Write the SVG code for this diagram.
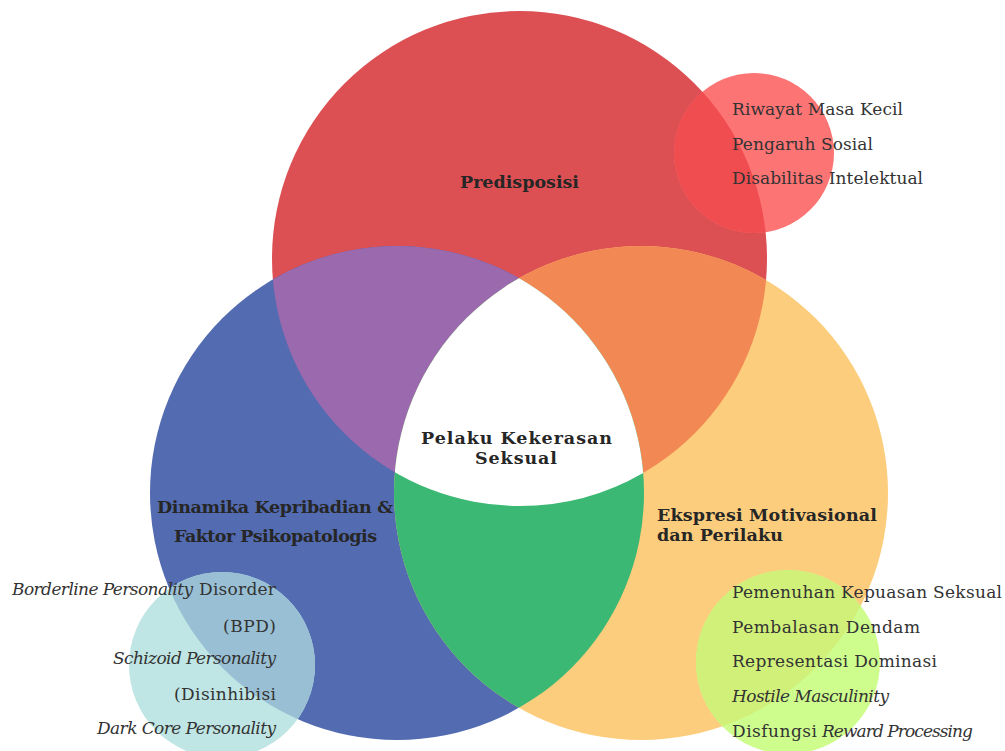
<svg xmlns="http://www.w3.org/2000/svg" width="1005" height="751" viewBox="0 0 1005 751">
<style>
.t{font-family:"DejaVu Serif","Liberation Serif",serif;fill:#262626}
.b{font-weight:bold;font-size:17.5px}
.i{font-size:17px;fill:#333}
.it{font-style:italic}
</style>
<defs>
<clipPath id="cR"><circle cx="519.5" cy="258.5" r="247.5"/></clipPath>
<clipPath id="cY"><circle cx="641" cy="493" r="247"/></clipPath>
<clipPath id="cB"><circle cx="397" cy="493" r="247"/></clipPath>
<clipPath id="cRB" clip-path="url(#cB)"><circle cx="519.5" cy="258.5" r="247.5"/></clipPath>
</defs>
<rect width="1005" height="751" fill="#fff"/>
<g id="predisposisi">
<circle cx="519.5" cy="258.5" r="247.5" fill="#dc4f53"/>
</g>
<g id="dinamika">
<circle cx="397" cy="493" r="247" fill="#536bb0"/>
</g>
<g id="ekspresi">
<circle cx="641" cy="493" r="247" fill="#fccd7c"/>
</g>
<g id="overlaps">
<circle cx="397" cy="493" r="247" fill="#9b69ae" clip-path="url(#cR)"/>
<circle cx="641" cy="493" r="247" fill="#f28853" clip-path="url(#cR)"/>
<circle cx="641" cy="493" r="247" fill="#3bb874" clip-path="url(#cB)"/>
<circle cx="641" cy="493" r="247" fill="#ffffff" clip-path="url(#cRB)"/>
</g>
<g id="sub-predisposisi">
<circle cx="754" cy="153" r="80" fill="#fd7475"/>
<circle cx="754" cy="153" r="80" fill="#f04d50" clip-path="url(#cR)"/>
</g>
<g id="sub-dinamika">
<circle cx="222" cy="665" r="93" fill="#bfe6e4"/>
<circle cx="222" cy="665" r="93" fill="#99bfd4" clip-path="url(#cB)"/>
</g>
<g id="sub-ekspresi">
<circle cx="788" cy="662" r="92" fill="#cefd8e"/>
<circle cx="788" cy="662" r="92" fill="#d1f07a" clip-path="url(#cY)"/>
</g>
<g id="labels">
<text class="t b" x="460" y="188" textLength="119">Predisposisi</text>
<text class="t b" x="421" y="444" textLength="191">Pelaku Kekerasan</text>
<text class="t b" x="475" y="464" textLength="82">Seksual</text>
<text class="t b" x="157" y="513" textLength="236">Dinamika Kepribadian &amp;</text>
<text class="t b" x="174" y="542" textLength="203">Faktor Psikopatologis</text>
<text class="t b" x="657" y="521" textLength="220">Ekspresi Motivasional</text>
<text class="t b" x="657" y="541" textLength="126">dan Perilaku</text>
</g>
<g id="items-predisposisi">
<text class="t i" x="732" y="115" textLength="171">Riwayat Masa Kecil</text>
<text class="t i" x="732" y="150" textLength="141">Pengaruh Sosial</text>
<text class="t i" x="732" y="184" textLength="191">Disabilitas Intelektual</text>
</g>
<g id="items-dinamika">
<text class="t i it" x="12" y="595" textLength="181">Borderline Personality</text>
<text class="t i" x="199" y="595" textLength="77">Disorder</text>
<text class="t i" x="223" y="632" textLength="53">(BPD)</text>
<text class="t i it" x="113" y="664" textLength="163">Schizoid Personality</text>
<text class="t i" x="174" y="700" textLength="102">(Disinhibisi</text>
<text class="t i it" x="97" y="734" textLength="179">Dark Core Personality</text>
</g>
<g id="items-ekspresi">
<text class="t i" x="732" y="598" textLength="270">Pemenuhan Kepuasan Seksual</text>
<text class="t i" x="732" y="633" textLength="188">Pembalasan Dendam</text>
<text class="t i" x="732" y="667" textLength="205">Representasi Dominasi</text>
<text class="t i it" x="732" y="702" textLength="157">Hostile Masculinity</text>
<text class="t i" x="732" y="737" textLength="85">Disfungsi</text>
<text class="t i it" x="822" y="737" textLength="151">Reward Processing</text>
</g>
</svg>
